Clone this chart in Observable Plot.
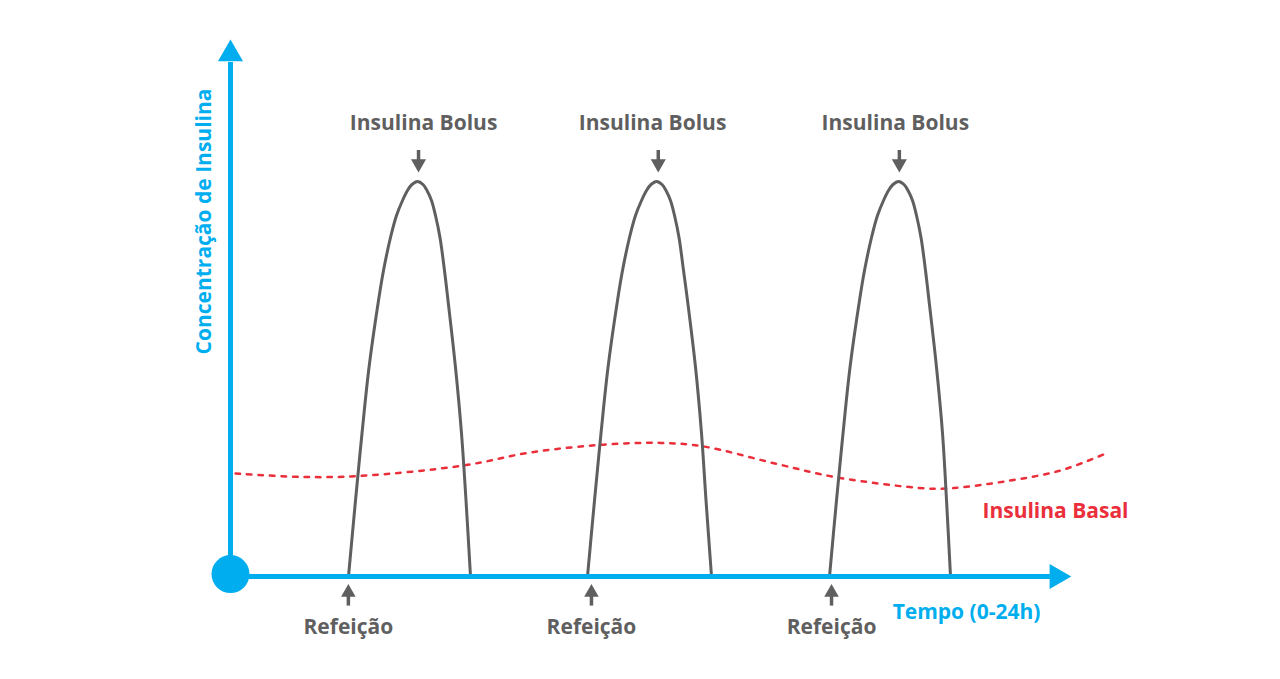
<!DOCTYPE html>
<html>
<head>
<meta charset="utf-8">
<script src="https://cdn.jsdelivr.net/npm/d3@7"></script>
<script src="https://cdn.jsdelivr.net/npm/@observablehq/plot@0.6"></script>
<style>
  html, body { margin: 0; padding: 0; background: #ffffff; }
  #chart svg { display: block; font-family: "Open Sans", Lato, sans-serif; }
</style>
</head>
<body>
<div id="chart"></div>
<script>
// Time in hours (x) and relative insulin concentration (y).

// Bolus insulin after each meal
const bolusConc = [0, 19, 35.75, 52.25, 69, 76.5, 84.75, 90.25, 94, 96.5, 98, 98.75,
                   98, 96.5, 94, 90.25, 84.75, 76.5, 69, 52.25, 35.75, 19, 0];

const bolus1Time = [3.514, 3.723, 3.916, 4.125, 4.408, 4.557, 4.765, 4.944, 5.123, 5.271, 5.405, 5.569,
                    5.733, 5.852, 5.986, 6.105, 6.239, 6.373, 6.478, 6.701, 6.880, 7.014, 7.148];
const bolus2Time = [10.632, 10.841, 11.034, 11.243, 11.526, 11.675, 11.883, 12.062, 12.241, 12.390, 12.524, 12.688,
                    12.851, 12.970, 13.104, 13.224, 13.358, 13.492, 13.611, 13.850, 14.028, 14.162, 14.326];
const bolus3Time = [17.840, 18.048, 18.242, 18.450, 18.733, 18.882, 19.091, 19.269, 19.448, 19.597, 19.731, 19.895,
                    20.058, 20.178, 20.312, 20.431, 20.565, 20.699, 20.803, 21.027, 21.206, 21.325, 21.444];

// Basal insulin across the day
const basalTime = [0.15, 2.08, 3.78, 6.94, 8.93, 11.02, 12.81, 14.09, 16.29, 18.08, 20.76, 21.53, 23.23, 24.72, 26.0];
const basalConc = [25.75, 24.9, 25.1, 27.75, 31, 32.9, 33.4, 32.5, 28.1, 24.75, 22, 22.1, 24, 26.5, 30.5];

// Meals and bolus doses
const mealTimes = [3.51, 10.75, 17.9];
const mealLabel = "Refeição";
const bolusDoseTimes = [5.60, 12.74, 19.92];
const bolusLabelTimes = [5.75, 12.57, 19.80];
const bolusLabel = "Insulina Bolus";

// Axis titles and series label
const xTitle = "Tempo (0-24h)";
const yTitle = "Concentração de Insulina";
const basalLabel = "Insulina Basal";

const CYAN = "#00aeef";
const GRAY = "#5f5f5f";
const RED = "#ea2f3b";

const toRows = (ts, vs, id) => ts.map((t, i) => ({t, v: vs[i], id}));
const bolusRows = [
  ...toRows(bolus1Time, bolusConc, 1),
  ...toRows(bolus2Time, bolusConc, 2),
  ...toRows(bolus3Time, bolusConc, 3)
];
const basalRows = toRows(basalTime, basalConc, 0);

const font = {fontSize: 21, fontWeight: "bold"};

const chart = Plot.plot({
  width: 1280,
  height: 679,
  marginLeft: 230,
  marginRight: 1280 - 1103,
  marginTop: 176,
  marginBottom: 103,
  x: {domain: [0, 26], axis: null},
  y: {domain: [0, 100], axis: null},
  marks: [
    // basal insulin (dotted)
    Plot.line(basalRows, {x: "t", y: "v", stroke: RED, strokeWidth: 2.5,
      strokeDasharray: "4.5,7", curve: "catmull-rom"}),
    // bolus peaks
    Plot.line(bolusRows, {x: "t", y: "v", z: "id", stroke: GRAY, strokeWidth: 3,
      curve: "catmull-rom"}),
    // axes
    Plot.ruleX([0], {y1: 0, y2: 128.5, stroke: CYAN, strokeWidth: 5}),
    Plot.ruleY([0], {x1: 0, x2: 24.42, stroke: CYAN, strokeWidth: 5}),
    Plot.dot([0], {x: 0, y: 130.65, symbol: "triangle", r: 9.3, fill: CYAN, stroke: null}),
    Plot.dot([0], {x: 24.61, y: 0, symbol: "triangle", r: 9.3, rotate: 90, fill: CYAN, stroke: null}),
    Plot.dot([0], {x: 0, y: 0.6, r: 19, fill: CYAN, stroke: null}),
    // meal arrows
    Plot.ruleX(mealTimes, {x: d => d, y1: -4, y2: -7.4, stroke: GRAY, strokeWidth: 3.5}),
    Plot.dot(mealTimes, {x: d => d, y: -4.0, symbol: "triangle", r: 5.4, fill: GRAY, stroke: null}),
    // bolus dose arrows
    Plot.ruleX(bolusDoseTimes, {x: d => d, y1: 106.5, y2: 103.5, stroke: GRAY, strokeWidth: 3.5}),
    Plot.dot(bolusDoseTimes, {x: d => d, y: 103.2, symbol: "triangle", r: 5.6, rotate: 180, fill: GRAY, stroke: null}),
    // labels
    Plot.text(bolusLabelTimes, {x: d => d, y: 113.25, text: () => bolusLabel, fill: GRAY, ...font}),
    Plot.text(mealTimes, {x: d => d, y: -12.6, text: () => mealLabel, fill: GRAY, ...font}),
    Plot.text([xTitle], {x: 21.92, y: -8.9, text: d => d, fill: CYAN, ...font}),
    Plot.text([basalLabel], {x: 24.57, y: 16.2, text: d => d, fill: RED, ...font}),
    Plot.text([yTitle], {x: -0.78, y: 88.75, text: d => d, rotate: -90, fill: CYAN, ...font})
  ]
});

document.getElementById("chart").appendChild(chart);
</script>
</body>
</html>
